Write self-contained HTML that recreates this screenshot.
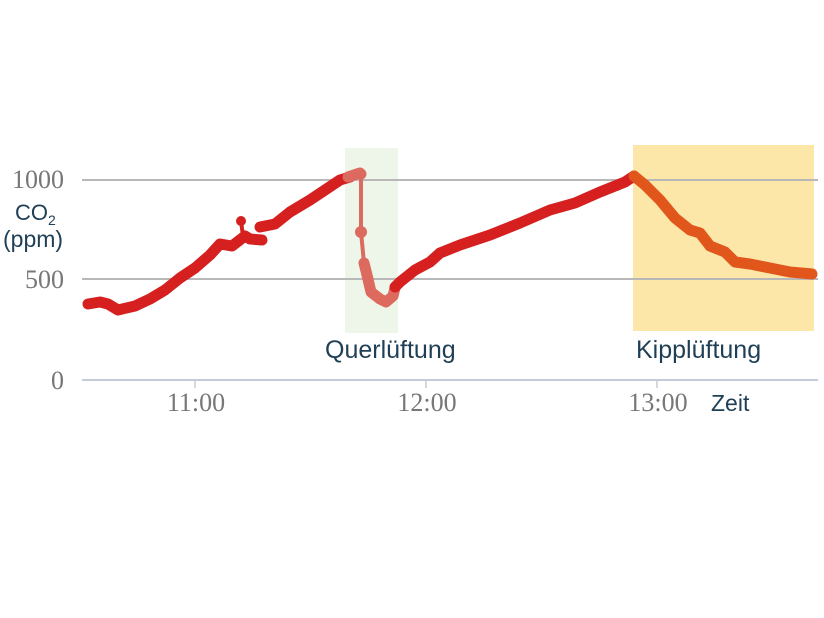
<!DOCTYPE html>
<html><head><style>
body{margin:0;background:#fff;}
svg{display:block;}
</style></head><body>
<svg width="824" height="618" xmlns="http://www.w3.org/2000/svg">
<rect x="345" y="148" width="53" height="185" fill="#eef6ea"/>
<rect x="633" y="145" width="181" height="186" fill="#fce6a8"/>
<line x1="82" y1="180" x2="818" y2="180" stroke="#b8b8b8" stroke-width="2"/>
<line x1="82" y1="279" x2="818" y2="279" stroke="#b8b8b8" stroke-width="2"/>
<line x1="82" y1="380" x2="818" y2="380" stroke="#c4ccd8" stroke-width="2"/>
<line x1="195" y1="380" x2="195" y2="388" stroke="#c4ccd8" stroke-width="1.5"/>
<line x1="426" y1="380" x2="426" y2="388" stroke="#c4ccd8" stroke-width="1.5"/>
<line x1="657" y1="380" x2="657" y2="388" stroke="#c4ccd8" stroke-width="1.5"/>
<g font-family="Liberation Serif, serif" font-size="26" fill="#777">
<text x="64" y="188" text-anchor="end">1000</text>
<text x="64" y="288" text-anchor="end">500</text>
<text x="64" y="389" text-anchor="end">0</text>
<text x="196" y="411" text-anchor="middle">11:00</text>
<text x="427" y="411" text-anchor="middle">12:00</text>
<text x="658" y="411" text-anchor="middle">13:00</text>
</g>
<g font-family="Liberation Sans, sans-serif" font-size="25" fill="#1e3f55">
<text x="15" y="220" font-size="22">CO<tspan font-size="14" dy="5">2</tspan></text>
<text x="3" y="247" font-size="23">(ppm)</text>
<text x="325" y="358">Querlüftung</text>
<text x="636" y="358">Kipplüftung</text>
<text x="711" y="411" font-size="23">Zeit</text>
</g>
<g fill="none" stroke-linecap="round" stroke-linejoin="round" stroke-width="11">
<polyline stroke="#d62020" points="88,304 100,302 108,304 118,310 135,306 150,299 165,290 180,278 195,268 210,255 220,244 232,246 245,236 250,239 262,240"/>
<polyline stroke="#d62020" points="260,227 275,224 290,212 310,200 325,190 340,180 350,177"/>
<line x1="241" y1="221" x2="243" y2="236" stroke="#d62020" stroke-width="4"/>
<circle cx="241" cy="221" r="5" fill="#d62020" stroke="none"/>
<polyline stroke="#dc6a5e" points="348,177 360,173 361,174" />
<polyline stroke="#dc6a5e" stroke-width="4" points="361,174 361,232 364,263"/>
<polyline stroke="#dc6a5e" points="364,263 367,275 371,292 380,299 386,302 393,296 395,288"/>
<circle cx="361" cy="232" r="6" fill="#dc6a5e" stroke="none"/>
<polyline stroke="#d62020" points="395,287 400,282 415,270 430,262 440,253 460,245 490,235 520,223 550,210 575,203 600,192 625,182 634,176"/>
<polyline stroke="#e0561b" points="634,176 645,185 660,200 675,218 690,230 700,233 710,246 725,252 735,262 750,264 770,268 790,272 812,274"/>
</g>
</svg>
</body></html>
